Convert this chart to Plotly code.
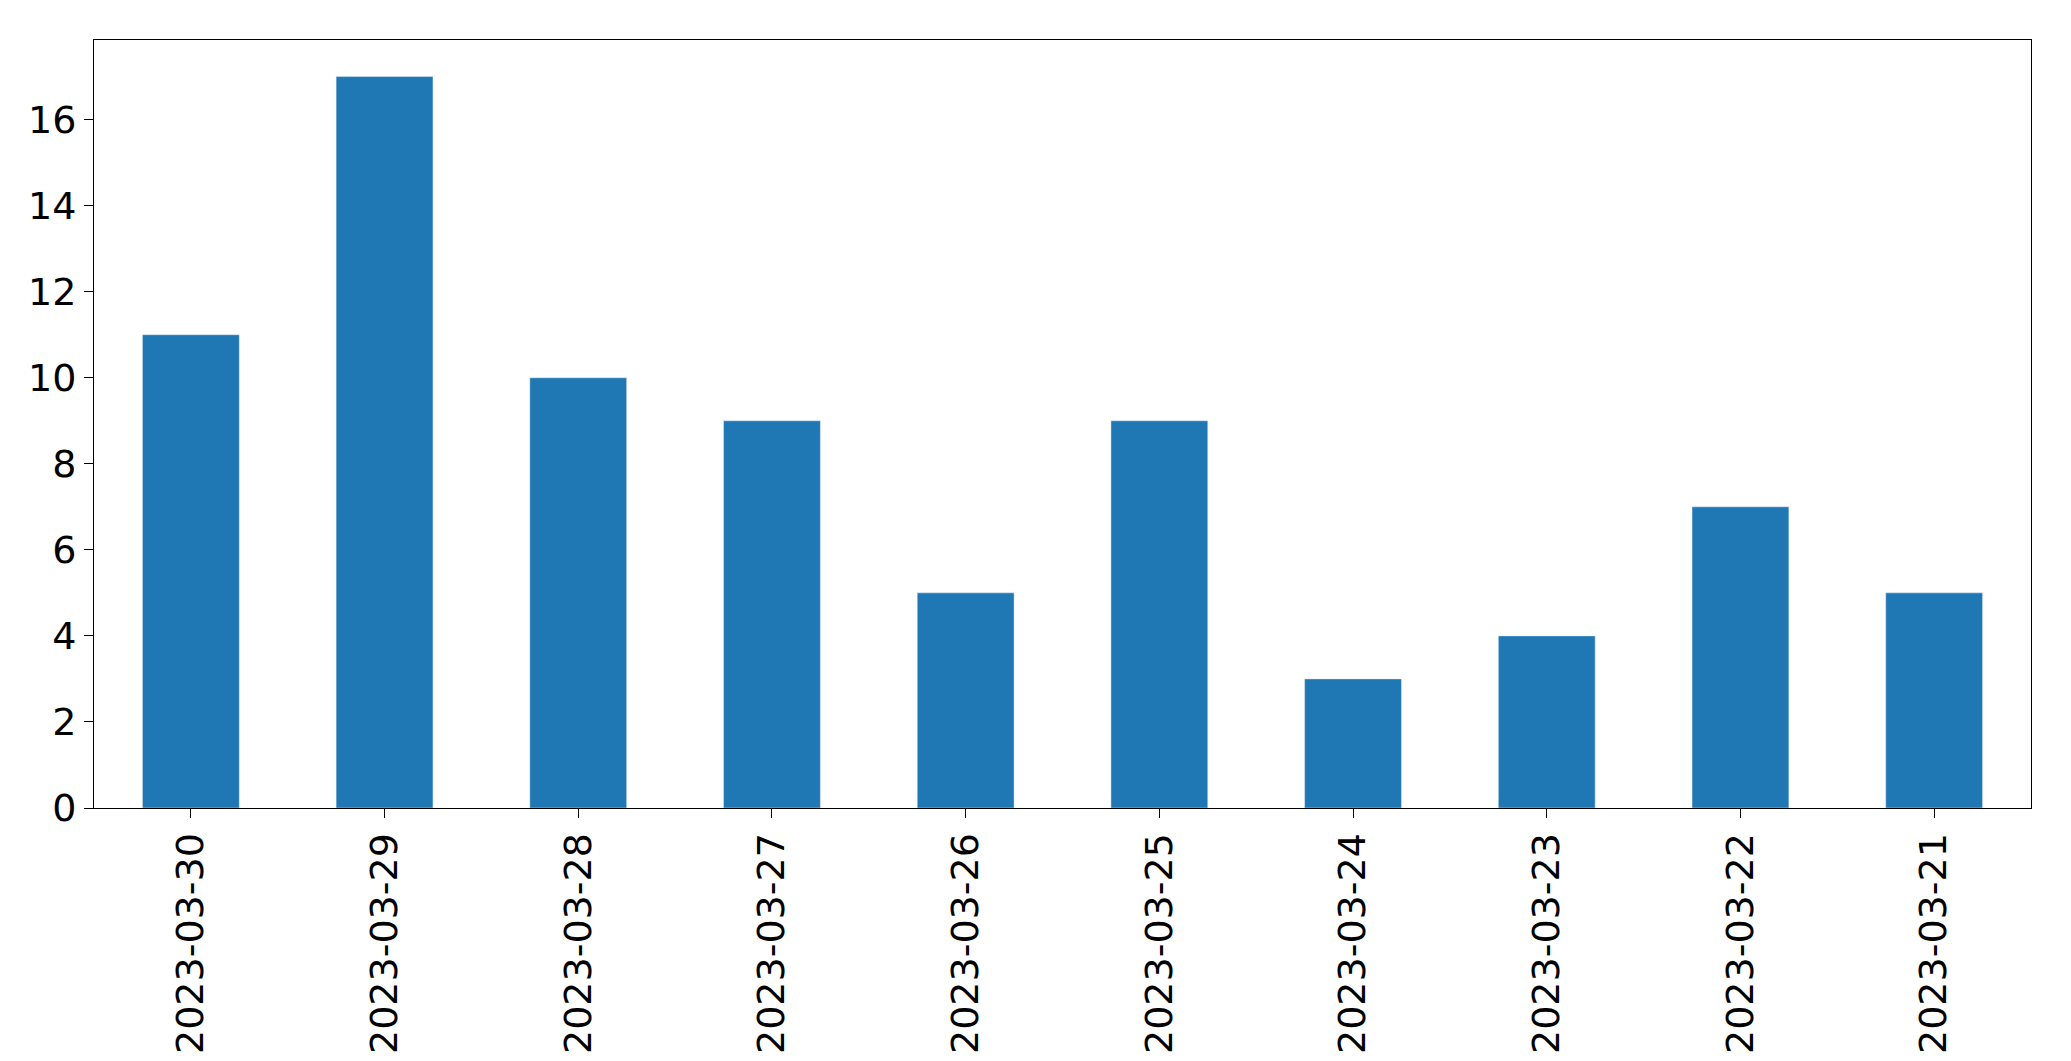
import plotly.graph_objects as go

dates = ["2023-03-30", "2023-03-29", "2023-03-28", "2023-03-27", "2023-03-26",
         "2023-03-25", "2023-03-24", "2023-03-23", "2023-03-22", "2023-03-21"]
counts = [11, 17, 10, 9, 5, 9, 3, 4, 7, 5]

fig = go.Figure(go.Bar(x=dates, y=counts, width=0.5, marker_color="#1f77b4"))

axis_style = dict(showline=True, linecolor="black", linewidth=1, mirror=True,
                  ticks="outside", ticklen=9, tickcolor="black", showgrid=False,
                  zeroline=False, tickfont=dict(size=38, family="DejaVu Sans", color="black"))
fig.update_xaxes(type="category", range=[-0.5, 9.5], tickangle=-90, **axis_style)
fig.update_yaxes(range=[0, 17.85], dtick=2, **axis_style)
fig.update_layout(width=2071, height=1061, plot_bgcolor="white", paper_bgcolor="white",
                  margin=dict(l=86, r=48, t=32, b=261), showlegend=False)

fig.write_html("out.html")
